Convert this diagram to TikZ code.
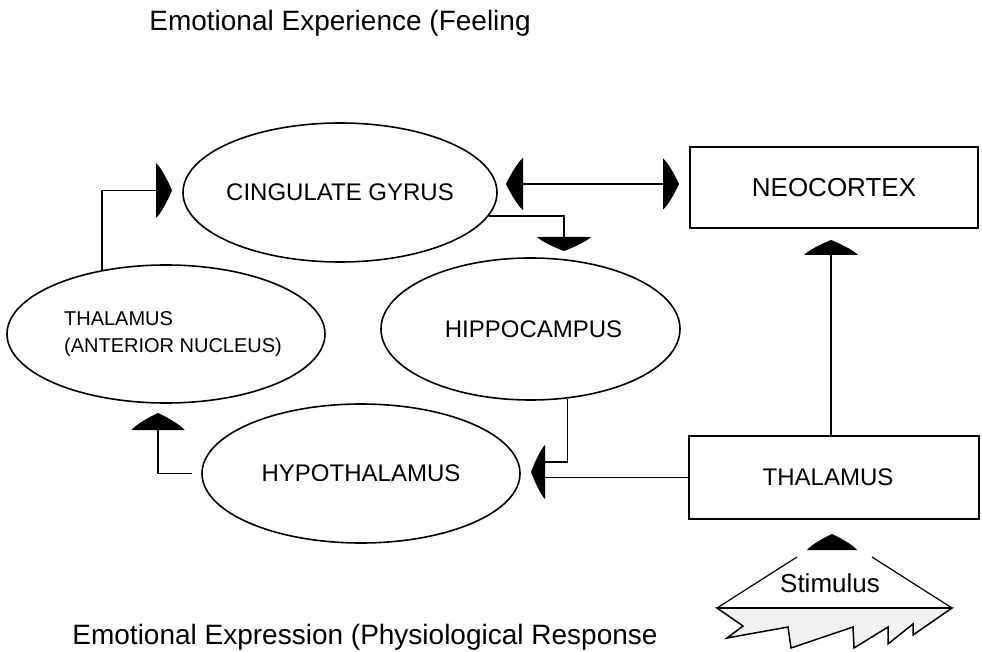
\documentclass[tikz,border=0pt]{standalone}
\usepackage{fontspec}
\setmainfont{Liberation Sans}
\usetikzlibrary{shapes.geometric,calc}
\newcommand\arrowhd[5]{%
  \fill[shift={(#1,#2)},rotate=#3] (0,#4) .. controls (0.3*#5,0.85*#4) and (0.75*#5,0.35*#4) .. (#5,0)
    .. controls (0.75*#5,-0.35*#4) and (0.3*#5,-0.85*#4) .. (0,-#4) -- cycle;}
\begin{document}
\begin{tikzpicture}[x=1pt,y=-1pt,
  ell/.style={ellipse,draw,line width=1.6pt,inner sep=0pt,font=\fontsize{24}{27}\selectfont},
  box/.style={rectangle,draw,line width=1.6pt,inner sep=0pt,font=\fontsize{24}{27}\selectfont},
  conn/.style={line width=1.7pt},
  caption/.style={font=\fontsize{28}{30}\selectfont,inner sep=0pt}]
\useasboundingbox (0,0) rectangle (982,652);
\fill[white] (0,0) rectangle (982,652);

% captions
\node[caption] (title) at (340,23) {Emotional Experience (Feeling};
\node[caption] (bottom) at (365,637) {Emotional Expression (Physiological Response};

% ellipses
\node[ell,minimum width=314,minimum height=139] (cg) at (340,192.5) {\makebox[0pt]{CINGULATE GYRUS}};
\node[ell,minimum width=318,minimum height=138] (ta) at (166,334) {\makebox[0pt]{\hspace*{14pt}\fontsize{20}{27}\selectfont\begin{tabular}{@{}l@{}}THALAMUS\\(ANTERIOR NUCLEUS)\end{tabular}}};
\node[ell,minimum width=299,minimum height=142] (hc) at (530.5,329) {\makebox[0pt]{\hspace*{6pt}HIPPOCAMPUS}};
\node[ell,minimum width=318,minimum height=139] (hy) at (361,473.5) {\makebox[0pt]{HYPOTHALAMUS}};

% boxes
\node[box,minimum width=288,minimum height=81,font=\fontsize{26}{28}\selectfont] (nc) at (834,187.5) {NEOCORTEX};
\node[box,minimum width=290,minimum height=83] (th) at (834,477.5) {\makebox[0pt]{\hspace*{-12pt}THALAMUS}};

% arrowhead base points
\coordinate (a1) at (156,190.5);
\coordinate (a2l) at (523,184);
\coordinate (a2r) at (663,184);
\coordinate (a3) at (564,237);
\coordinate (a4) at (831,255);
\coordinate (a5) at (545,472);
\coordinate (a6) at (158,430);
\coordinate (a7) at (832,550);

% connectors
\draw[conn] (ta.135) |- (a1);
\draw[conn] (a2l) -- (a2r);
\draw[conn] (cg.-9.5) -| (a3);
\draw[conn] (th.north -| a4) -- (a4);
\draw[conn] (th.west) -- (th.west -| a5);
\draw[conn] (hc.-62) |- ([yshift=10pt]a5);
\draw[conn] ([xshift=-9pt]hy.west) -| (a6);

% arrowheads
\arrowhd{156}{190.5}{0}{27.5}{16}
\arrowhd{523}{184}{180}{26}{17}
\arrowhd{663}{184}{0}{25.5}{16}
\arrowhd{564}{237}{270}{27}{14}
\arrowhd{831}{255}{90}{27}{15}
\arrowhd{545}{472}{180}{27}{14}
\arrowhd{158}{430}{90}{26.5}{17}
\arrowhd{832}{550}{90}{25}{16}

% stimulus
\filldraw[fill=gray!10,line width=1.5pt,line join=miter]
  (717,608) -- (743,626) -- (727,638) -- (788,627) -- (791,648) -- (853,627) -- (854,648)
  -- (888,627) -- (888,644) -- (913,624) -- (913,635) -- (952,608) -- cycle;
\draw[line width=1.8pt] (717,608) -- (952,608);
\draw[line width=1.2pt] (717,608) -- (797,557);
\draw[line width=1.2pt] (872,557) -- (952,608);
\node[inner sep=0pt,font=\fontsize{26}{28}\selectfont] (stim) at (830,583) {Stimulus};
\end{tikzpicture}
\end{document}
